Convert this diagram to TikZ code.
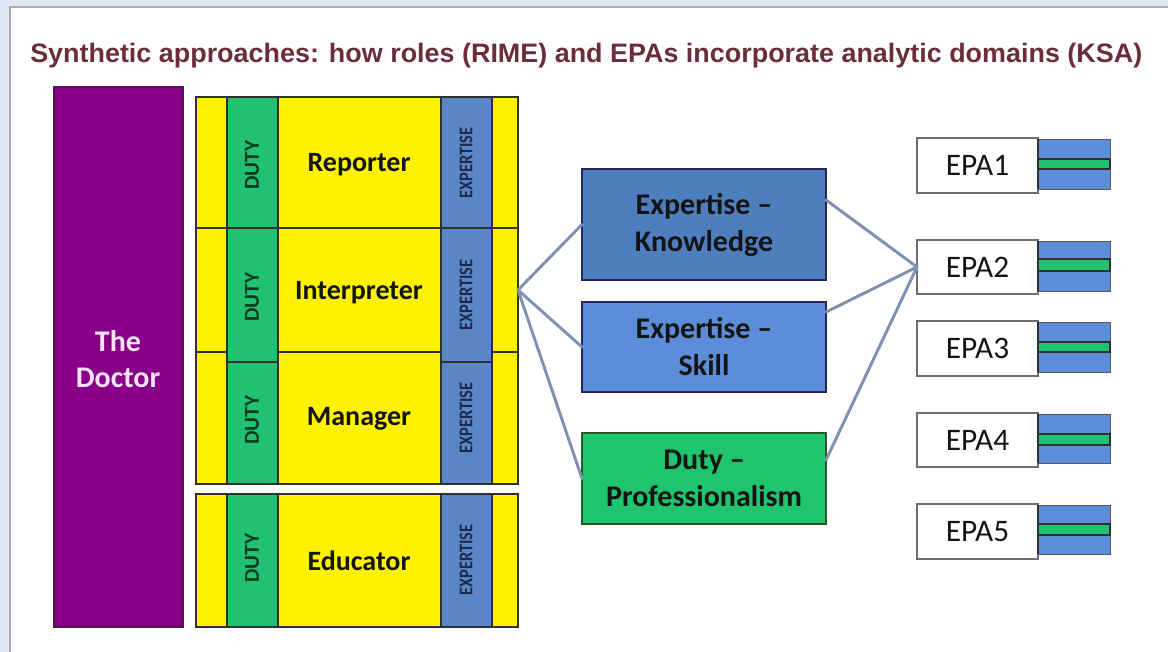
\documentclass[tikz,border=0pt]{standalone}
\usepackage{fontspec}
\setmainfont{Carlito}
\newfontfamily\titlefont{Liberation Sans}
\usetikzlibrary{fit}
\definecolor{bgc}{HTML}{E0E6F2}
\definecolor{panelc}{HTML}{A8ADB5}
\definecolor{titlec}{HTML}{6B2D3B}
\definecolor{purplec}{HTML}{870087}
\definecolor{purpleedge}{HTML}{4A1A4A}
\definecolor{doctortc}{HTML}{F6E2F6}
\definecolor{yellowc}{HTML}{FFF200}
\definecolor{greenc}{HTML}{20C272}
\definecolor{bluecol}{HTML}{5B86C6}
\definecolor{knowc}{HTML}{4F7EBF}
\definecolor{skillc}{HTML}{5B8DD8}
\definecolor{profc}{HTML}{1FC46E}
\definecolor{epablue}{HTML}{5B8DD8}
\definecolor{edgec}{HTML}{303030}
\definecolor{linec}{HTML}{7E91B3}
\definecolor{textc}{HTML}{141414}
\definecolor{navyt}{HTML}{1C2A4E}
\definecolor{greent}{HTML}{0B3A22}
\begin{document}
\begin{tikzpicture}[x=0.75pt,y=-0.75pt,
  box/.style={inner sep=0pt, outer sep=0pt},
  doctorbox/.style={box, fill=purplec, draw=purpleedge, line width=0.8pt},
  doctortext/.style={inner sep=0pt, text=doctortc, align=center, font=\fontsize{22.5}{27}\selectfont\bfseries},
  cell/.style={box, fill=yellowc, draw=edgec, line width=0.9pt},
  dutycol/.style={box, fill=greenc, draw=edgec, line width=0.9pt},
  expcol/.style={box, fill=bluecol, draw=edgec, line width=0.9pt},
  roletext/.style={inner sep=0pt, text=textc, font=\fontsize{21}{25}\selectfont\bfseries},
  dutytext/.style={inner sep=0pt, rotate=90, text=greent, font=\fontsize{16}{18}\selectfont\bfseries},
  exptext/.style={inner sep=0pt, rotate=90, text=navyt, font=\fontsize{14.5}{16}\selectfont\bfseries},
  midbox/.style={box, draw=edgec!80!blue, line width=1pt},
  midtext/.style={inner sep=0pt, align=center, text=textc, font=\fontsize{22.5}{27.75}\selectfont\bfseries},
  epabox/.style={box, fill=white, draw=edgec!70, line width=0.8pt},
  epatext/.style={inner sep=0pt, text=textc, font=\fontsize{23.5}{26}\selectfont},
  epablu/.style={box, fill=epablue, draw=edgec!80, line width=0.7pt},
  epagrn/.style={box, fill=greenc, draw=edgec, line width=0.8pt},
  conn/.style={draw=linec, line width=2.2pt, line cap=round}
]
\useasboundingbox (0,0) rectangle (1168,652);
\fill[bgc] (0,0) rectangle (1168,652);
\fill[white] (10,7) rectangle (1168,652);
\draw[panelc, line width=0.8pt] (10,652) -- (10,7) -- (1168,7);

% title
\node[anchor=base west, inner sep=0pt, text=titlec] (title) at (30,63)
  {\resizebox{834pt}{\height}{\titlefont\bfseries\fontsize{20}{23}\selectfont Synthetic approaches: how roles (RIME) and EPAs incorporate analytic domains (KSA)}};

% the doctor
\node[doctorbox, fit={(54,87) (183,627)}] (doctor) {};
\node[doctortext] (doctorl) at (118,359) {The\\Doctor};

% role cells
\node[cell, fit={(196,97) (518,228)}] (rep) {};
\node[cell, fit={(196,228) (518,352)}] (interp) {};
\node[cell, fit={(196,352) (518,484)}] (man) {};
\node[cell, fit={(196,494) (518,627)}] (edu) {};

% duty columns
\node[dutycol, fit={(227,97) (278,228)}] (repduty) {};
\node[dutycol, fit={(227,228) (278,362)}] (intduty) {};
\node[dutycol, fit={(227,362) (278,484)}] (manduty) {};
\node[dutycol, fit={(227,494) (278,627)}] (eduduty) {};
% expertise columns
\node[expcol, fit={(441,97) (492,228)}] (repexp) {};
\node[expcol, fit={(441,228) (492,362)}] (intexp) {};
\node[expcol, fit={(441,362) (492,484)}] (manexp) {};
\node[expcol, fit={(441,494) (492,627)}] (eduexp) {};

\node[dutytext] (repdutyl) at (252,165) {DUTY};
\node[dutytext] (intdutyl) at (252,297) {DUTY};
\node[dutytext] (mandutyl) at (252,420) {DUTY};
\node[dutytext] (edudutyl) at (252,558) {DUTY};
\node[exptext] (repexpl) at (466,163) {\scalebox{0.85}[1]{EXPERTISE}};
\node[exptext] (intexpl) at (466,295) {\scalebox{0.85}[1]{EXPERTISE}};
\node[exptext] (manexpl) at (466,418) {\scalebox{0.85}[1]{EXPERTISE}};
\node[exptext] (eduexpl) at (466,560) {\scalebox{0.85}[1]{EXPERTISE}};

\node[roletext] (repl) at (359,165) {Reporter};
\node[roletext] (intl) at (359,293) {Interpreter};
\node[roletext] (manl) at (359,419) {Manager};
\node[roletext] (edul) at (359,561) {Educator};

% middle boxes
\node[midbox, fill=knowc, fit={(582,169) (826,280)}] (know) {};
\node[midbox, fill=skillc, fit={(582,302) (826,392)}] (skill) {};
\node[midbox, fill=profc, draw=edgec!80!green, fit={(582,433) (826,524)}] (prof) {};
\node[midtext] (knowl) at (know.center) {Expertise –\\Knowledge};
\node[midtext] (skilll) at (skill.center) {Expertise –\\Skill};
\node[midtext] (profl) at (prof.center) {Duty –\\Professionalism};

% EPA boxes
\foreach \i/\t/\b/\bb/\gt/\gb in {1/138/193/189/159/169, 2/240/294/291/259/271, 3/321/376/372/342/352, 4/413/467/463/434/445, 5/504/559/554/524/535}{
  \node[epabox, fit={(917,\t) (1038,\b)}] (epa\i) {};
  \node[epatext] (epal\i) at (epa\i.center) {EPA\i};
  \node[epablu, fit={(1038,\t+1) (1110,\bb)}] (epab\i) {};
  \node[epagrn, fit={(1038,\gt) (1110,\gb)}] (epag\i) {};
  \draw[edgec, line width=1.6pt] (epab\i.north west) -- (epab\i.south west);
}

% connectors
\draw[conn] (interp.east) -- (know.west);
\draw[conn] (interp.east) -- (skill.west);
\draw[conn] (interp.east) -- (prof.west);
\draw[conn] ([yshift=18.4pt]know.east) -- (epa2.west);
\draw[conn] ([yshift=26.2pt]skill.east) -- (epa2.west);
\draw[conn] ([yshift=13.9pt]prof.east) -- (epa2.west);
\end{tikzpicture}
\end{document}
